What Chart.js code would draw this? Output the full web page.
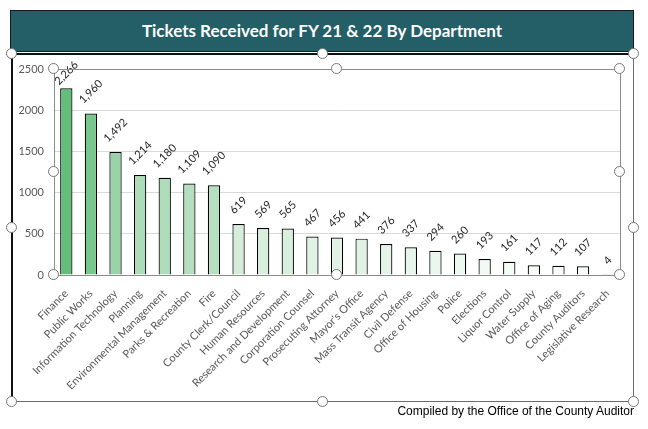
<!DOCTYPE html>
<html>
<head>
<meta charset="utf-8">
<script src="https://cdn.jsdelivr.net/npm/chart.js@4"></script>
<style>
    body { margin: 0; background: #fff; }
    #page { position: relative; width: 648px; height: 429px; overflow: hidden; }
    #c { position: absolute; left: 0; top: 0; }
    #banner {
        position: absolute; left: 10px; top: 10px; width: 622px; height: 40px;
        background: #245e66; border: 1px solid #1a1a1a;
        color: #fff; font: bold 17px Lato, sans-serif;
        text-align: center; line-height: 40px;
    }
    .line { position: absolute; }
    .handle {
        position: absolute; width: 9px; height: 9px; border-radius: 50%;
        background: #fff; border: 1.5px solid #767676; box-sizing: content-box;
    }
    #footer {
        position: absolute; right: 14px; top: 404px;
        font: 12px "Liberation Sans", Arial, sans-serif; color: #000;
    }
</style>
</head>
<body>
<div id="page">
    <canvas id="c" width="648" height="429"></canvas>
    <div id="banner">Tickets Received for FY 21 &amp; 22 By Department</div>
    <div id="footer">Compiled by the Office of the County Auditor</div>
</div>
<script>
const departments = [
    "Finance", "Public Works", "Information Technology", "Planning",
    "Environmental Management", "Parks & Recreation", "Fire",
    "County Clerk/Council", "Human Resources", "Research and Development",
    "Corporation Counsel", "Prosecuting Attorney", "Mayor's Office",
    "Mass Transit Agency", "Civil Defense", "Office of Housing", "Police",
    "Elections", "Liquor Control", "Water Supply", "Office of Aging",
    "County Auditors", "Legislative Research"
];
const tickets = [
    2266, 1960, 1492, 1214, 1180, 1109, 1090, 619, 569, 565, 467, 456,
    441, 376, 337, 294, 260, 193, 161, 117, 112, 107, 4
];
const yTicks = [0, 500, 1000, 1500, 2000, 2500];

// green -> white color scale, like the Excel conditional scale
function scaleColor(v) {
    const lo = Math.min(...tickets), hi = Math.max(...tickets);
    const t = (v - lo) / (hi - lo);
    const mix = (a, b) => Math.round(a + (b - a) * t);
    return `rgb(${mix(255, 99)}, ${mix(255, 190)}, ${mix(255, 123)})`;
}

const page = document.getElementById('page');
function addLine(x, y, w, h, color) {
    const d = document.createElement('div');
    d.className = 'line';
    Object.assign(d.style, {left: x + 'px', top: y + 'px', width: w + 'px', height: h + 'px', background: color});
    page.appendChild(d);
}
function addHandle(x, y) {
    const d = document.createElement('div');
    d.className = 'handle';
    d.style.left = (x - 6) + 'px';
    d.style.top = (y - 6) + 'px';
    page.appendChild(d);
}

// outer chart frame
addLine(11, 53, 624, 2, '#111');
addLine(11, 53, 2, 350, '#111');
addLine(633, 53, 1, 350, '#6b6b6b');
addLine(11, 401, 623, 1, '#6b6b6b');

const barLabels = {
    id: 'barLabels',
    afterDatasetsDraw(chart) {
        const ctx = chart.ctx;
        const meta = chart.getDatasetMeta(0);
        ctx.save();
        ctx.font = '11px Lato';
        ctx.fillStyle = '#262626';
        ctx.textAlign = 'center';
        ctx.textBaseline = 'middle';
        meta.data.forEach((bar, i) => {
            const txt = tickets[i].toLocaleString('en-US');
            const w = ctx.measureText(txt).width;
            const half = (w + 11) * 0.3536;
            const cy = Math.max(bar.y - half - 8, chart.chartArea.top + 4);
            ctx.save();
            ctx.translate(bar.x, cy);
            ctx.rotate(-Math.PI / 4);
            ctx.fillText(txt, 0, 0);
            ctx.restore();
        });
        ctx.restore();
    }
};

let handlesDone = false;
const plotBorder = {
    id: 'plotBorder',
    afterDraw(chart) {
        const a = chart.chartArea, ctx = chart.ctx;
        ctx.save();
        ctx.strokeStyle = '#8c8c8c';
        ctx.lineWidth = 1;
        ctx.strokeRect(Math.round(a.left) + 0.5, Math.round(a.top) + 0.5,
            Math.round(a.right - a.left), Math.round(a.bottom - a.top));
        ctx.restore();
        if (handlesDone) return;
        handlesDone = true;
        // selection handles of the chart and of the plot area
        [[12, 54], [323, 54], [634, 54], [12, 228], [634, 228], [12, 402], [323, 402], [634, 402]]
            .forEach(p => addHandle(p[0], p[1]));
        const l = Math.round(a.left), r = Math.round(a.right), t = Math.round(a.top), b = Math.round(a.bottom);
        const mx = Math.round((l + r) / 2), my = Math.round((t + b) / 2);
        [[l, t], [mx, t], [r, t], [l, my], [r, my], [l, b], [mx, b], [r, b]]
            .forEach(p => addHandle(p[0], p[1]));
    }
};

Chart.defaults.font.family = 'Lato';
Chart.defaults.color = '#595959';

new Chart(document.getElementById('c'), {
    type: 'bar',
    data: {
        labels: departments,
        datasets: [{
            data: tickets,
            backgroundColor: tickets.map(scaleColor),
            borderColor: '#000',
            borderWidth: 1.2,
            barPercentage: 0.5,
            categoryPercentage: 1
        }]
    },
    options: {
        responsive: false,
        animation: false,
        layout: { padding: { top: 69, right: 28, left: 0, bottom: 0 } },
        plugins: { legend: { display: false }, tooltip: { enabled: false } },
        scales: {
            y: {
                min: 0, max: 2500,
                afterFit: s => { s.width = 54; },
                afterBuildTicks: s => { s.ticks = yTicks.map(v => ({value: v})); },
                grid: { color: '#d9d9d9', drawTicks: false },
                border: { color: '#8c8c8c' },
                ticks: { padding: 10, font: { size: 11 }, color: '#595959', callback: v => String(v) }
            },
            x: {
                afterFit: s => { s.height = 154; },
                grid: { display: false },
                border: { color: '#8c8c8c' },
                ticks: {
                    minRotation: 45, maxRotation: 45, autoSkip: false,
                    padding: 4, font: { size: 11 }, color: '#595959'
                }
            }
        }
    },
    plugins: [barLabels, plotBorder]
});
</script>
</body>
</html>
